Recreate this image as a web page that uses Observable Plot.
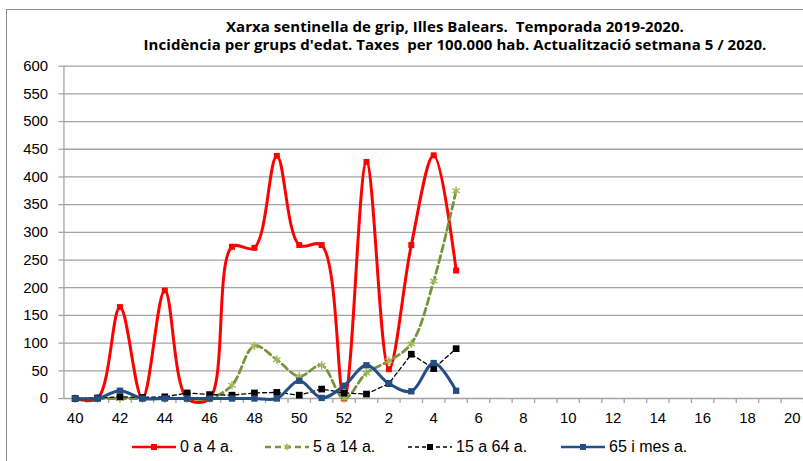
<!DOCTYPE html>
<html>
<head>
<meta charset="utf-8">
<script src="https://cdn.jsdelivr.net/npm/d3@7"></script>
<script src="https://cdn.jsdelivr.net/npm/@observablehq/plot@0.6"></script>
<style>
  html, body { margin: 0; padding: 0; background: #fff; overflow: hidden; }
  #wrap { position: relative; width: 803px; height: 461px; overflow: hidden; }
  #frame { position: absolute; left: 6px; top: 9px; width: 900px; height: 600px; border: 1px solid #8c8c8c; box-sizing: border-box; }
  #title { position: absolute; left: 0; width: 910px; top: 17px; text-align: center; font-family: "Open Sans", sans-serif; font-weight: bold; font-size: 15px; line-height: 18px; letter-spacing: 0.05px; color: #000; }
  #chart { position: absolute; left: 0; top: 0; }
  #legend { position: absolute; left: 0; top: 436px; width: 803px; height: 22px; font-family: "Liberation Sans", Arial, sans-serif; font-size: 16px; color: #000; }
  .item { position: absolute; top: 0; height: 22px; display: flex; align-items: center; white-space: nowrap; }
  .item svg { margin-right: 4px; }
</style>
</head>
<body>
<div id="wrap">
  <div id="frame"></div>
  <div id="chart"></div>
  <div id="title">Xarxa sentinella de grip, Illes Balears.&nbsp; Temporada 2019-2020.<br>Incidència per grups d'edat. Taxes&nbsp; per 100.000 hab. Actualització setmana 5 / 2020.</div>
  <div id="legend"></div>
</div>
<script>
// Categories: epidemiological weeks of season 2019-2020
const weeks = [40,41,42,43,44,45,46,47,48,49,50,51,52,1,2,3,4,5,6,7,8,9,10,11,12,13,14,15,16,17,18,19,20];
// Series values (rate per 100,000) for weeks 40..5
const s0a4   = [0, 0, 165, 0, 195, 0, 0, 274, 272, 438, 277, 277, 0, 427, 53, 277, 439, 231];
const s5a14  = [0, 0, 0, 0, 0, 0, 0, 24, 95, 70, 40, 60, 0, 46, 68, 99, 212, 375];
const s15a64 = [0, 1, 3, 2, 3, 10, 7, 6, 10, 11, 6, 17, 10, 8, 27, 80, 54, 90];
const s65    = [0, 0, 14, 0, 0, 0, 0, 0, 0, 0, 32, 1, 23, 60, 27, 13, 64, 14];
const seriesNames = ["0 a 4 a.", "5 a 14 a.", "15 a 64 a.", "65 i mes a."];
const yTicks = [0,50,100,150,200,250,300,350,400,450,500,550,600];

const toRows = (vals) => vals.map((v, i) => ({i, v}));
const idx = weeks.map((_, i) => i);
const labelIdx = idx.filter(i => i % 2 === 0);
const boundaries = idx.map(i => i + 0.5);

const RED = "#ff0000", GREEN = "#77933c", GREENM = "#9bbb59", BLACK = "#000000", BLUE = "#254e85";
const GRID = "#a3a3a3";

const plot = Plot.plot({
  width: 807,
  height: 461,
  marginLeft: 63.75,
  marginRight: 0,
  marginTop: 66,
  marginBottom: 61,
  style: {fontFamily: "'Liberation Sans', Arial, sans-serif", fontSize: "15px", color: "#000", background: "transparent", overflow: "visible"},
  x: {type: "linear", domain: [-0.5, weeks.length - 0.5]},
  y: {domain: [0, 600]},
  marks: [
    Plot.ruleY(yTicks.filter(d => d > 0), {stroke: GRID, strokeWidth: 1.3}),
    Plot.axisY({ticks: yTicks, tickSize: 5, tickPadding: 11, label: null, stroke: GRID, strokeWidth: 1.3}),
    Plot.axisX({ticks: boundaries, tickSize: 5, tickFormat: () => "", label: null, stroke: GRID, strokeWidth: 1.3}),
    Plot.axisX({ticks: labelIdx, tickSize: 0, tickPadding: 14, tickFormat: i => String(weeks[i]), label: null}),
    Plot.ruleX([-0.5], {stroke: GRID, strokeWidth: 1.3}),
    Plot.ruleY([0], {stroke: GRID, strokeWidth: 1.3}),
    // 0 a 4 a.
    Plot.line(toRows(s0a4), {x: "i", y: "v", stroke: RED, strokeWidth: 3, curve: "catmull-rom"}),
    Plot.dot(toRows(s0a4), {x: "i", y: "v", symbol: "square", fill: RED, r: 3.4}),
    // 5 a 14 a.
    Plot.line(toRows(s5a14), {x: "i", y: "v", stroke: GREEN, strokeWidth: 2.8, strokeDasharray: "7,4", curve: "catmull-rom"}),
    Plot.dot(toRows(s5a14), {x: "i", y: "v", symbol: "asterisk", stroke: GREENM, strokeWidth: 1.5, r: 4}),
    // 15 a 64 a.
    Plot.line(toRows(s15a64), {x: "i", y: "v", stroke: BLACK, strokeWidth: 1.3, strokeDasharray: "4,3"}),
    Plot.dot(toRows(s15a64), {x: "i", y: "v", symbol: "square", fill: BLACK, r: 3.8}),
    // 65 i mes a.
    Plot.line(toRows(s65), {x: "i", y: "v", stroke: BLUE, strokeWidth: 3, curve: "catmull-rom"}),
    Plot.dot(toRows(s65), {x: "i", y: "v", symbol: "square", fill: BLUE, r: 3.6})
  ]
});
document.getElementById("chart").appendChild(plot);

// Legend
const legend = document.getElementById("legend");
const legendStyles = [
  {color: RED, width: 2.5, dash: null, marker: "square", left: 132},
  {color: GREEN, width: 2.5, dash: "6,4", marker: "asterisk", left: 265},
  {color: BLACK, width: 1.3, dash: "4,3", marker: "square", left: 408},
  {color: BLUE, width: 2.5, dash: null, marker: "square", left: 561}
];
seriesNames.forEach((name, k) => {
  const st = legendStyles[k];
  const item = document.createElement("div");
  item.className = "item";
  item.style.left = st.left + "px";
  const ns = "http://www.w3.org/2000/svg";
  const svg = document.createElementNS(ns, "svg");
  svg.setAttribute("width", 44); svg.setAttribute("height", 14);
  const line = document.createElementNS(ns, "line");
  line.setAttribute("x1", 0); line.setAttribute("x2", 44);
  line.setAttribute("y1", 7); line.setAttribute("y2", 7);
  line.setAttribute("stroke", st.color); line.setAttribute("stroke-width", st.width);
  if (st.dash) line.setAttribute("stroke-dasharray", st.dash);
  svg.appendChild(line);
  if (st.marker === "square") {
    const r = document.createElementNS(ns, "rect");
    r.setAttribute("x", 19); r.setAttribute("y", 4); r.setAttribute("width", 6); r.setAttribute("height", 6);
    r.setAttribute("fill", st.color);
    svg.appendChild(r);
  } else {
    const p = document.createElementNS(ns, "path");
    p.setAttribute("d", d3.symbol(d3.symbolAsterisk, 30)());
    p.setAttribute("transform", "translate(22,7)");
    p.setAttribute("stroke", GREENM); p.setAttribute("stroke-width", 1.5); p.setAttribute("fill", "none");
    svg.appendChild(p);
  }
  item.appendChild(svg);
  const span = document.createElement("span");
  span.textContent = name;
  item.appendChild(span);
  legend.appendChild(item);
});
</script>
</body>
</html>
